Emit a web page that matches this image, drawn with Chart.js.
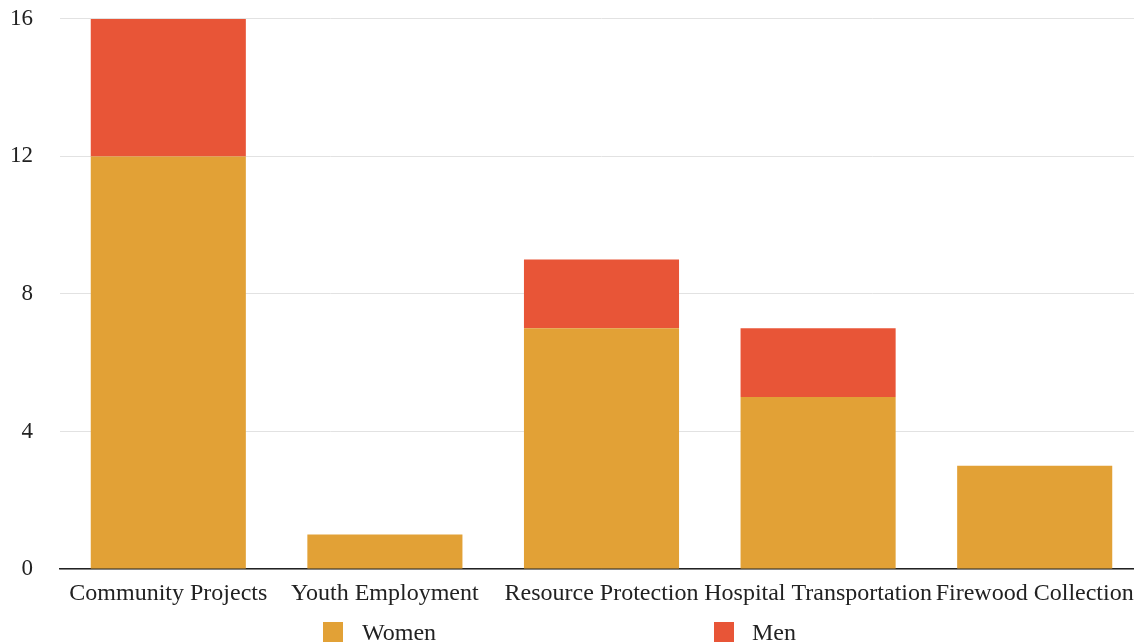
<!DOCTYPE html>
<html>
<head>
<meta charset="utf-8">
<script src="https://cdn.jsdelivr.net/npm/chart.js@4"></script>
<style>
  html, body { margin: 0; padding: 0; background: #fff; overflow: hidden; }
  #wrap { position: relative; width: 1134px; height: 644px; overflow: hidden; }
  #chart { position: absolute; left: 0; top: -15px; }
  .legend-item { position: absolute; top: 619px; font: 24px "Liberation Serif", "Times New Roman", serif; color: #222; }
  .legend-box { position: absolute; width: 20px; height: 20px; top: 3px; }
  .legend-text { position: absolute; white-space: nowrap; top: 0; line-height: 26px; }
</style>
</head>
<body>
<div id="wrap">
  <canvas id="chart" width="1143" height="659"></canvas>
  <div id="legend"></div>
</div>
<script>
// chart data
var categories = ['Community Projects', 'Youth Employment', 'Resource Protection', 'Hospital Transportation', 'Firewood Collection'];
var women = [12, 1, 7, 5, 3];
var men = [4, 0, 2, 2, 0];
var yTicks = [0, 4, 8, 12, 16];

var fontFamily = '"Liberation Serif", "Times New Roman", serif';
var colors = { women: '#e2a136', men: '#e85537' };

const barConfig = {
    type: 'bar',
    data: {
        labels: categories,
        datasets: [{
            label: 'Women',
            data: women,
            backgroundColor: colors.women,
        }, {
            label: 'Men',
            data: men,
            backgroundColor: colors.men,
        }],
    },
    options: {
        responsive: false,
        animation: false,
        layout: { padding: 0 },
        plugins: {
            // own legend is built below the canvas
            legend: { display: false },
            tooltip: { enabled: false },
        },
        datasets: {
            bar: { categoryPercentage: 1, barPercentage: 0.716 }
        },
        scales: {
            x: {
                stacked: true,
                grid: { display: false },
                border: { display: true, color: '#222', width: 1.5 },
                ticks: {
                    color: '#222',
                    padding: 2,
                    maxRotation: 0,
                    autoSkip: false,
                    font: { family: fontFamily, size: 24 },
                },
                afterFit: function(scale) { scale.height = 75; },
            },
            y: {
                stacked: true,
                min: yTicks[0],
                max: yTicks[yTicks.length - 1],
                afterBuildTicks: function(scale) {
                    scale.ticks = yTicks.map(function(v) { return { value: v }; });
                },
                grid: { color: '#e2e2e2', lineWidth: 1, drawTicks: false },
                border: { display: false },
                ticks: {
                    color: '#222',
                    padding: 27,
                    font: { family: fontFamily, size: 23, lineHeight: 0.6 },
                },
                afterFit: function(scale) { scale.width = 60; },
            },
        },
    },
};

const ctx = document.getElementById('chart');
window.myBar = new Chart(ctx, barConfig);

// legend entries
var legendPos = [{ box: 323, text: 362 }, { box: 714, text: 752 }];
var legendEl = document.getElementById('legend');
barConfig.data.datasets.forEach(function(ds, i) {
    var item = document.createElement('div');
    item.className = 'legend-item';
    item.style.left = '0px';
    var box = document.createElement('div');
    box.className = 'legend-box';
    box.style.left = legendPos[i].box + 'px';
    box.style.background = ds.backgroundColor;
    var txt = document.createElement('div');
    txt.className = 'legend-text';
    txt.style.left = legendPos[i].text + 'px';
    txt.textContent = ds.label;
    item.appendChild(box);
    item.appendChild(txt);
    legendEl.appendChild(item);
});
</script>
</body>
</html>
